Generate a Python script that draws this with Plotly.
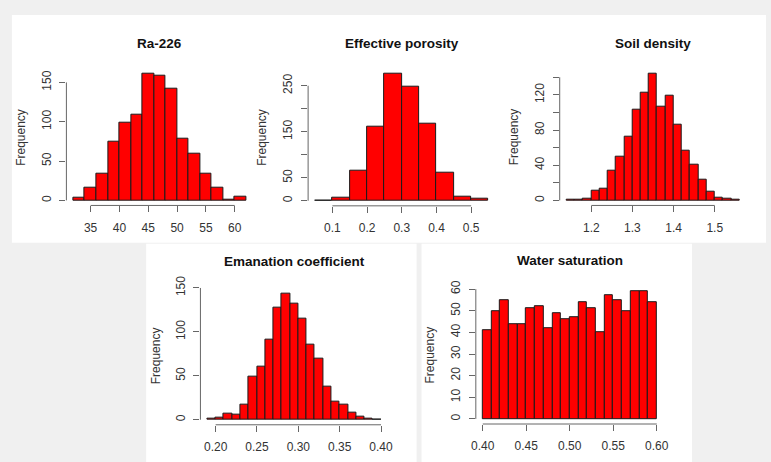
import plotly.graph_objects as go

# ---------------- data ----------------
ra_edges = [32, 34, 36, 38, 40, 42, 44, 46, 48, 50, 52, 54, 56, 58, 60, 62]
ra_counts = [3, 16, 34, 74, 99, 109, 161, 159, 142, 78, 60, 34, 16, 1, 5]
ra_xticks = [35, 40, 45, 50, 55, 60]
ra_yticks = [0, 50, 100, 150]
ra_ylabels = ["0", "50", "100", "150"]

por_edges = [0.05, 0.10, 0.15, 0.20, 0.25, 0.30, 0.35, 0.40, 0.45, 0.50, 0.55]
por_counts = [1, 6, 65, 162, 276, 247, 168, 60, 8, 4]
por_xticks = [0.1, 0.2, 0.3, 0.4, 0.5]
por_yticks = [0, 50, 100, 150, 200, 250]
por_ylabels = ["0", "50", "", "150", "", "250"]

den_edges = [1.14, 1.16, 1.18, 1.20, 1.22, 1.24, 1.26, 1.28, 1.30, 1.32, 1.34,
             1.36, 1.38, 1.40, 1.42, 1.44, 1.46, 1.48, 1.50, 1.52, 1.54, 1.56]
den_counts = [1, 1, 2, 11, 13, 34, 50, 73, 103, 122, 144, 106, 119, 86, 56,
              41, 23, 10, 3, 2, 1]
den_xticks = [1.2, 1.3, 1.4, 1.5]
den_yticks = [0, 20, 40, 60, 80, 100, 120, 140]
den_ylabels = ["0", "", "40", "", "80", "", "120", ""]

ema_edges = [0.19, 0.20, 0.21, 0.22, 0.23, 0.24, 0.25, 0.26, 0.27, 0.28, 0.29,
             0.30, 0.31, 0.32, 0.33, 0.34, 0.35, 0.36, 0.37, 0.38, 0.39, 0.40]
ema_counts = [1, 2, 7, 6, 17, 49, 60, 91, 127, 144, 132, 115, 86, 70, 38, 21,
              17, 8, 3, 1, 0]
ema_xticks = [0.20, 0.25, 0.30, 0.35, 0.40]
ema_xlabels = ["0.20", "0.25", "0.30", "0.35", "0.40"]
ema_yticks = [0, 50, 100, 150]
ema_ylabels = ["0", "50", "100", "150"]

wat_edges = [0.40, 0.41, 0.42, 0.43, 0.44, 0.45, 0.46, 0.47, 0.48, 0.49, 0.50,
             0.51, 0.52, 0.53, 0.54, 0.55, 0.56, 0.57, 0.58, 0.59, 0.60]
wat_counts = [41, 50, 55, 44, 44, 51, 52, 42, 49, 46, 47, 54, 51, 40, 57, 55,
              50, 59, 59, 54]
wat_xticks = [0.40, 0.45, 0.50, 0.55, 0.60]
wat_xlabels = ["0.40", "0.45", "0.50", "0.55", "0.60"]
wat_yticks = [0, 10, 20, 30, 40, 50, 60]
wat_ylabels = ["0", "10", "20", "30", "40", "50", "60"]

titles = ["Ra-226", "Effective porosity", "Soil density",
          "Emanation coefficient", "Water saturation"]

# ---------------- layout constants (pixels) ----------------
W, H = 771, 462
BG = "#f0f0f0"
# plot regions: left, right, top, bottom
boxes = [
    (62.2, 251.4, 58.2, 198.6),
    (307.1, 496.9, 58.2, 199.0),
    (562.0, 751.1, 58.2, 198.6),
    (198.0, 388.0, 283.0, 423.8),
    (477.0, 667.4, 281.5, 423.0),
]
title_y = [32, 32, 32, 256, 255]
ylab_x = [16, 261, 516, 153, 431]
white_panels = [(7, 3, 771, 237), (143, 238, 417, 462), (422, 238, 696, 462)]

panels = [
    (ra_edges, ra_counts, ra_xticks, None, ra_yticks, ra_ylabels),
    (por_edges, por_counts, por_xticks, None, por_yticks, por_ylabels),
    (den_edges, den_counts, den_xticks, None, den_yticks, den_ylabels),
    (ema_edges, ema_counts, ema_xticks, ema_xlabels, ema_yticks, ema_ylabels),
    (wat_edges, wat_counts, wat_xticks, wat_xlabels, wat_yticks, wat_ylabels),
]

FONT = "Liberation Sans, Arial, sans-serif"
AXC = "#666666"
TXT = "#333333"

def px(x):
    return x / W

def py(y):
    return 1 - y / H

fig = go.Figure()
shapes = []
annotations = []

for (x0, y0, x1, y1) in white_panels:
    shapes.append(dict(type="rect", xref="paper", yref="paper",
                       x0=px(x0), x1=px(x1), y0=py(y1), y1=py(y0),
                       fillcolor="white", line=dict(width=0), layer="below"))

for i, (edges, counts, xt, xl, yt, yl) in enumerate(panels):
    n = i + 1
    xa = "x" if n == 1 else f"x{n}"
    ya = "y" if n == 1 else f"y{n}"
    centers = [(edges[k] + edges[k + 1]) / 2 for k in range(len(counts))]
    widths = [edges[k + 1] - edges[k] for k in range(len(counts))]
    fig.add_trace(go.Bar(x=centers, y=counts, width=widths, xaxis=xa, yaxis=ya,
                         marker=dict(color="#ff0000",
                                     line=dict(color="#1a1a1a", width=1)),
                         showlegend=False, hoverinfo="skip"))
    L, R, T, B = boxes[i]
    span = edges[-1] - edges[0]
    xr = [edges[0] - 0.04 * span, edges[-1] + 0.04 * span]
    ymax = max(counts)
    # R extends the range by 4%; keep the top tick inside (R tolerance)
    yr = [-0.04 * ymax, max(ymax * 1.04, yt[-1] + 0.002 * ymax)]
    common = dict(showgrid=False, zeroline=False, showline=False,
                  ticks="outside", ticklen=6, tickwidth=1, tickcolor=AXC,
                  tickfont=dict(family=FONT, size=12, color=TXT),
                  fixedrange=True)
    xkw = dict(common, domain=[px(L), px(R)], range=xr, anchor=ya,
               tickmode="array", tickvals=xt, ticklabelstandoff=5)
    if xl is not None:
        xkw["ticktext"] = xl
    ykw = dict(common, domain=[py(B), py(T)], range=yr, anchor=xa,
               tickmode="array", tickvals=yt, ticktext=yl, tickangle=-90,
               ticklabelstandoff=4)
    key = "" if n == 1 else str(n)
    fig.layout["xaxis" + key] = xkw
    fig.layout["yaxis" + key] = ykw
    # R-style axis lines spanning first to last tick
    shapes.append(dict(type="line", xref=xa, yref=f"{ya} domain",
                       x0=xt[0], x1=xt[-1], y0=0, y1=0,
                       line=dict(color=AXC, width=1)))
    shapes.append(dict(type="line", xref=f"{xa} domain", yref=ya,
                       x0=0, x1=0, y0=yt[0], y1=yt[-1],
                       line=dict(color=AXC, width=1)))
    annotations.append(dict(text=f"<b>{titles[i]}</b>", xref="paper", yref="paper",
                            x=px((L + R) / 2), y=py(title_y[i]), showarrow=False,
                            xanchor="center", yanchor="middle",
                            font=dict(family=FONT, size=13.5, color="#111111")))
    annotations.append(dict(text="Frequency", xref="paper", yref="paper",
                            x=px(ylab_x[i]), y=py((T + B) / 2), showarrow=False,
                            textangle=-90, xanchor="center", yanchor="middle",
                            font=dict(family=FONT, size=12, color=TXT)))

fig.update_layout(width=W, height=H, margin=dict(l=0, r=0, t=0, b=0),
                  paper_bgcolor=BG, plot_bgcolor="rgba(0,0,0,0)",
                  shapes=shapes, annotations=annotations, bargap=0)

fig.write_html("out.html", config={"displayModeBar": False},
               post_script="document.body.style.margin='0';"
                           "document.body.style.background='" + BG + "';")
